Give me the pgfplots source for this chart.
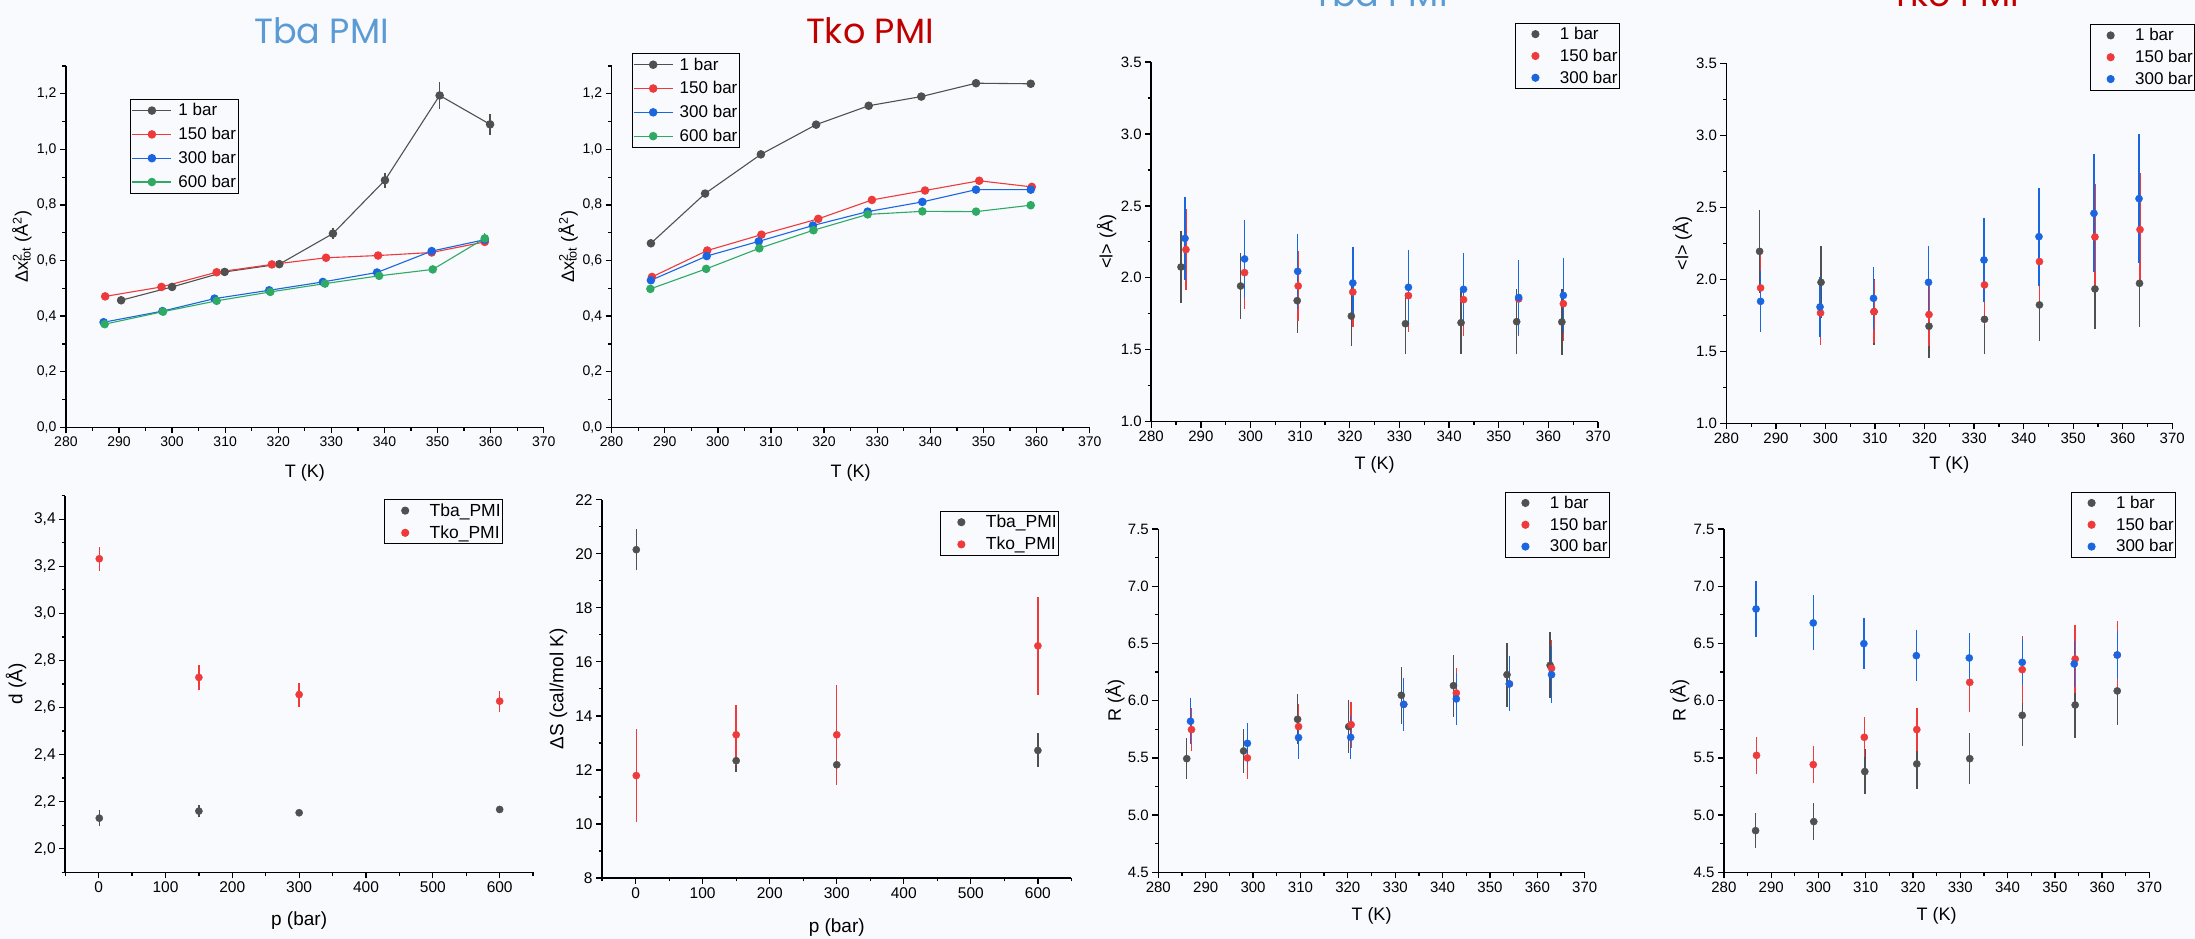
\documentclass[border=0pt]{standalone}
\usepackage{fontspec}
\setmainfont{Liberation Sans}
\newfontfamily\titlefont{Poppins}
\usepackage{pgfplots}
\pgfplotsset{compat=1.18}

\definecolor{bg}{RGB}{248,250,253}
\definecolor{cgray}{RGB}{80,80,80}
\definecolor{cred}{RGB}{238,58,58}
\definecolor{cblue}{RGB}{26,102,224}
\definecolor{cgreen}{RGB}{46,170,100}
\definecolor{tbablue}{RGB}{91,155,213}
\definecolor{tkored}{RGB}{192,0,0}

\pgfplotsset{
  panel/.style={
    scale only axis, axis lines=left, axis line style={-, line width=1.5pt},
    tick align=outside, major tick length=6pt, minor tick length=3.5pt,
    tick style={line width=1.3pt, black},
    /pgf/number format/assume math mode=true,
    clip=false,
    xmin=280, xmax=370,
    xtick={280,290,...,370}, minor xtick={285,295,...,365},
    label style={font=\fontsize{18}{18}\selectfont},
    legend cell align=left,
    legend style={draw=black, line width=0.9pt, fill=bg, anchor=north west,
      font=\fontsize{17}{17}\selectfont, row sep=4pt, column sep=0pt,
      inner xsep=1pt, inner ysep=2pt, nodes={inner xsep=1pt}},
    legend image code/.code={\path (0pt,0pt) (42pt,0pt); \draw plot coordinates {(19pt,0pt)};},
  },
  linepanel/.style={panel,
    ymin=0, ymax=1.3, ytick={0,0.2,...,1.2}, minor ytick={0.1,0.3,...,1.3},
    tick label style={font=\fontsize{14}{14}\selectfont},
    yticklabel style={/pgf/number format/.cd, fixed, fixed zerofill, precision=1, use comma},
    ylabel={Δx\makebox[0pt][l]{\textsuperscript{2}}\textsubscript{tot} (Å\textsuperscript{2})},
    xlabel={T (K)},
    legend style={row sep=6pt, column sep=5.5pt},
    legend image code/.code={\draw[mark repeat=2,mark phase=2] plot coordinates {(0pt,0pt) (19.5pt,0pt) (39pt,0pt)};},
  },
  lpanel/.style={panel,
    ymin=1, ymax=3.5, ytick={1,1.5,...,3.5}, minor ytick={1.25,1.75,...,3.25},
    tick label style={font=\fontsize{15}{15}\selectfont},
    yticklabel style={/pgf/number format/.cd, fixed, fixed zerofill, precision=1},
    ylabel={<l> (Å)}, xlabel={T (K)},
  },
  rpanel/.style={panel,
    ymin=4.5, ymax=7.5, ytick={4.5,5,...,7.5}, minor ytick={4.75,5.25,...,7.25},
    tick label style={font=\fontsize{15}{15}\selectfont},
    yticklabel style={/pgf/number format/.cd, fixed, fixed zerofill, precision=1},
    ylabel={R (Å)}, xlabel={T (K)},
  },
  ppanel/.style={panel,
    xmin=-50, xmax=650, xtick={0,100,...,600}, minor xtick={-50,50,...,650},
    tick label style={font=\fontsize{15.5}{15.5}\selectfont},
    label style={font=\fontsize{19}{19}\selectfont},
    xlabel={p (bar)},
    legend style={font=\fontsize{17.5}{17.5}\selectfont},
  },
  ln/.style={line width=1.1pt, mark=*, mark size=3.7pt, mark options={solid, fill=#1, draw=#1}, color=#1,
    error bars/.cd, y dir=both, y explicit, error mark=none, error bar style={line width=1.3pt, #1}},
  sc/.style={only marks, mark=*, mark size=3.6pt, mark options={fill=#1, draw=#1}, color=#1,
    error bars/.cd, y dir=both, y explicit, error mark=none, error bar style={line width=1.4pt, #1}},
}

\begin{document}
\begin{tikzpicture}[x=1pt,y=1pt]
\useasboundingbox (0,0) rectangle (2195,939);
\fill[bg] (0,0) rectangle (2195,939);

% titles
\node[anchor=base, font=\titlefont\fontsize{35}{35}\selectfont, text=tbablue] at (321.5,895.7) {Tba PMI};
\node[anchor=base, font=\titlefont\fontsize{35}{35}\selectfont, text=tkored] at (869.9,895.7) {Tko PMI};
\node[anchor=base, font=\titlefont\fontsize{35}{35}\selectfont, text=tbablue] at (1380.4,932) {Tba PMI};
\node[anchor=base, font=\titlefont\fontsize{35}{35}\selectfont, text=tkored] at (1955.4,932) {Tko PMI};

% panel 1: Tba dx2
\begin{axis}[linepanel, at={(65.9pt,511.7pt)}, anchor=south west, width=477.8pt, height=361.3pt,
  ylabel style={at={(axis description cs:-0.092,0.5)}, anchor=center},
  xlabel style={at={(axis description cs:0.5,-0.126)}, anchor=center},
  legend style={at={(axis description cs:0.135,0.908)}}]
\addplot[ln=cgray] coordinates {(290.4,0.457) +- (0,0.012) (300.0,0.505) +- (0,0.010) (309.9,0.559) +- (0,0.010) (320.2,0.587) +- (0,0.012) (330.3,0.697) +- (0,0.020) (340.1,0.889) +- (0,0.027) (350.4,1.194) +- (0,0.050) (359.9,1.090) +- (0,0.038)};
\addplot[ln=cred] coordinates {(287.4,0.471) (298.0,0.505) (308.4,0.558) (318.8,0.586) (329.0,0.610) (338.8,0.618) (348.9,0.629) (358.9,0.667)};
\addplot[ln=cblue] coordinates {(287.1,0.378) (298.2,0.418) (308.0,0.463) (318.3,0.493) (328.4,0.523) (338.6,0.557) (348.9,0.634) (358.9,0.675)};
\addplot[ln=cgreen] coordinates {(287.3,0.371) (298.3,0.416) (308.4,0.455) (318.5,0.487) (328.8,0.517) (339.0,0.545) (349.1,0.568) (358.9,0.680) +- (0,0.02)};
\legend{1 bar,150 bar,300 bar,600 bar}
\end{axis}

% panel 2: Tko dx2
\begin{axis}[linepanel, at={(611.6pt,511.7pt)}, anchor=south west, width=478.1pt, height=361.3pt,
  ylabel style={at={(axis description cs:-0.091,0.5)}, anchor=center},
  xlabel style={at={(axis description cs:0.5,-0.126)}, anchor=center},
  legend style={at={(axis description cs:0.042,1.035)}}]
\addplot[ln=cgray] coordinates {(287.4,0.662) (297.6,0.841) (308.1,0.982) (318.5,1.089) (328.4,1.157) (338.3,1.190) (348.6,1.238) +- (0,0.015) (358.9,1.236) +- (0,0.012)};
\addplot[ln=cred] coordinates {(287.6,0.541) (298.0,0.636) (308.2,0.693) (318.9,0.750) (329.0,0.818) (339.0,0.852) (349.2,0.887) (359.1,0.865)};
\addplot[ln=cblue] coordinates {(287.4,0.529) (297.9,0.616) (307.7,0.669) (317.9,0.726) (328.2,0.776) (338.5,0.811) (348.6,0.855) (358.9,0.855)};
\addplot[ln=cgreen] coordinates {(287.3,0.498) (297.8,0.570) (307.8,0.644) (318.0,0.709) (328.2,0.766) (338.5,0.777) (348.6,0.776) (358.9,0.799)};
\legend{1 bar,150 bar,300 bar,600 bar}
\end{axis}

% panel 3: Tba <l>
\begin{axis}[lpanel, at={(1151.2pt,517.3pt)}, anchor=south west, width=446.9pt, height=359.7pt,
  ylabel style={at={(axis description cs:-0.100,0.5)}, anchor=center},
  xlabel style={at={(axis description cs:0.5,-0.120)}, anchor=center},
  legend style={at={(axis description cs:0.813,1.109)}}]
\addplot[sc=cgray] coordinates {(286.0,2.075) +- (0,0.25) (298.0,1.943) +- (0,0.23) (309.4,1.841) +- (0,0.227) (320.3,1.734) +- (0,0.21) (331.2,1.681) +- (0,0.21) (342.4,1.688) +- (0,0.22) (353.6,1.695) +- (0,0.225) (362.7,1.693) +- (0,0.23)};
\addplot[sc=cred] coordinates {(287.0,2.196) +- (0,0.28) (298.8,2.036) +- (0,0.255) (309.6,1.943) +- (0,0.24) (320.6,1.901) +- (0,0.24) (331.8,1.876) +- (0,0.25) (342.9,1.848) +- (0,0.25) (354.0,1.853) +- (0,0.26) (363.0,1.820) +- (0,0.26)};
\addplot[sc=cblue] coordinates {(286.8,2.274) +- (0,0.29) (298.8,2.131) +- (0,0.27) (309.5,2.045) +- (0,0.26) (320.6,1.964) +- (0,0.25) (331.8,1.934) +- (0,0.26) (342.9,1.920) +- (0,0.25) (354.0,1.864) +- (0,0.26) (363.0,1.878) +- (0,0.26)};
\legend{1 bar,150 bar,300 bar}
\end{axis}

% panel 4: Tko <l>
\begin{axis}[lpanel, at={(1726.4pt,515.7pt)}, anchor=south west, width=445.8pt, height=360pt,
  ylabel style={at={(axis description cs:-0.099,0.5)}, anchor=center},
  xlabel style={at={(axis description cs:0.5,-0.116)}, anchor=center},
  legend style={at={(axis description cs:0.815,1.109)}}]
\addplot[sc=cgray] coordinates {(286.7,2.194) +- (0,0.29) (299.1,1.979) +- (0,0.25) (309.8,1.775) +- (0,0.23) (320.9,1.674) +- (0,0.22) (332.1,1.722) +- (0,0.24) (343.2,1.822) +- (0,0.25) (354.4,1.933) +- (0,0.28) (363.4,1.972) +- (0,0.30)};
\addplot[sc=cred] coordinates {(286.9,1.940) +- (0,0.24) (299.0,1.766) +- (0,0.22) (309.8,1.775) +- (0,0.22) (320.9,1.755) +- (0,0.22) (332.1,1.961) +- (0,0.27) (343.2,2.123) +- (0,0.31) (354.4,2.294) +- (0,0.37) (363.5,2.345) +- (0,0.39)};
\addplot[sc=cblue] coordinates {(286.9,1.847) +- (0,0.21) (298.9,1.808) +- (0,0.21) (309.7,1.868) +- (0,0.22) (320.8,1.979) +- (0,0.25) (332.0,2.134) +- (0,0.29) (343.1,2.296) +- (0,0.34) (354.2,2.458) +- (0,0.41) (363.3,2.560) +- (0,0.45)};
\legend{1 bar,150 bar,300 bar}
\end{axis}

% panel 5: d vs p
\begin{axis}[ppanel, at={(65.2pt,66.7pt)}, anchor=south west, width=467.9pt, height=376.6pt,
  ymin=1.9, ymax=3.5, ytick={2,2.2,...,3.4}, minor ytick={1.9,2.1,...,3.5},
  yticklabel style={/pgf/number format/.cd, fixed, fixed zerofill, precision=1, use comma},
  ylabel={d (Å)},
  ylabel style={at={(axis description cs:-0.105,0.5)}, anchor=center},
  xlabel style={at={(axis description cs:0.5,-0.129)}, anchor=center},
  legend style={at={(axis description cs:0.682,0.991)}}]
\addplot[sc=cgray] coordinates {(1,2.130) +- (0,0.033) (150,2.160) +- (0,0.025) (300,2.153) +- (0,0.01) (600,2.167) +- (0,0.01)};
\addplot[sc=cred] coordinates {(1,3.232) +- (0,0.052) (150,2.728) +- (0,0.052) (300,2.655) +- (0,0.051) (600,2.627) +- (0,0.045)};
\legend{Tba\_PMI,Tko\_PMI}
\end{axis}

% panel 6: dS vs p
\begin{axis}[ppanel, at={(602.1pt,61pt)}, anchor=south west, width=469.3pt, height=378.3pt,
  ymin=8, ymax=22, ytick={8,10,...,22}, minor ytick={9,11,...,21},
  ylabel={ΔS (cal/mol K)},
  ylabel style={at={(axis description cs:-0.093,0.5)}, anchor=center},
  xlabel style={at={(axis description cs:0.5,-0.130)}, anchor=center},
  legend style={at={(axis description cs:0.721,0.971)}}]
\addplot[sc=cgray] coordinates {(1,20.15) +- (0,0.77) (150,12.34) +- (0,0.40) (300,12.19) +- (0,0.50) (600,12.72) +- (0,0.63)};
\addplot[sc=cred] coordinates {(1,11.79) +- (0,1.71) (150,13.30) +- (0,1.10) (300,13.30) +- (0,1.84) (600,16.59) +- (0,1.80)};
\legend{Tba\_PMI,Tko\_PMI}
\end{axis}

% panel 7: Tba R
\begin{axis}[rpanel, at={(1158.3pt,66.7pt)}, anchor=south west, width=426.4pt, height=343.3pt,
  ylabel style={at={(axis description cs:-0.102,0.5)}, anchor=center},
  xlabel style={at={(axis description cs:0.5,-0.126)}, anchor=center},
  legend style={at={(axis description cs:0.812,1.109)}}]
\addplot[sc=cgray] coordinates {(286.0,5.493) +- (0,0.18) (298.0,5.560) +- (0,0.19) (309.4,5.837) +- (0,0.22) (320.2,5.773) +- (0,0.23) (331.3,6.047) +- (0,0.25) (342.3,6.131) +- (0,0.27) (353.6,6.227) +- (0,0.28) (362.7,6.309) +- (0,0.29)};
\addplot[sc=cred] coordinates {(287.0,5.747) +- (0,0.19) (298.8,5.499) +- (0,0.18) (309.6,5.773) +- (0,0.20) (320.7,5.790) +- (0,0.20) (331.8,5.968) +- (0,0.21) (342.9,6.067) +- (0,0.22) (354.1,6.146) +- (0,0.23) (363.0,6.283) +- (0,0.25)};
\addplot[sc=cblue] coordinates {(286.8,5.820) +- (0,0.20) (298.8,5.627) +- (0,0.18) (309.6,5.677) +- (0,0.19) (320.6,5.680) +- (0,0.19) (331.8,5.968) +- (0,0.23) (342.9,6.015) +- (0,0.23) (354.1,6.146) +- (0,0.24) (363.0,6.227) +- (0,0.25)};
\legend{1 bar,150 bar,300 bar}
\end{axis}

% panel 8: Tko R
\begin{axis}[rpanel, at={(1723.9pt,66.7pt)}, anchor=south west, width=425.5pt, height=343.3pt,
  ylabel style={at={(axis description cs:-0.104,0.5)}, anchor=center},
  xlabel style={at={(axis description cs:0.5,-0.126)}, anchor=center},
  legend style={at={(axis description cs:0.815,1.109)}}]
\addplot[sc=cgray] coordinates {(286.7,4.864) +- (0,0.155) (299.0,4.943) +- (0,0.16) (309.8,5.380) +- (0,0.20) (320.8,5.447) +- (0,0.22) (332.0,5.493) +- (0,0.22) (343.1,5.872) +- (0,0.27) (354.3,5.962) +- (0,0.29) (363.2,6.085) +- (0,0.30)};
\addplot[sc=cred] coordinates {(286.9,5.522) +- (0,0.16) (298.9,5.441) +- (0,0.165) (309.7,5.680) +- (0,0.175) (320.8,5.747) +- (0,0.19) (332.0,6.160) +- (0,0.26) (343.1,6.271) +- (0,0.29) (354.3,6.364) +- (0,0.30) (363.2,6.399) +- (0,0.30)};
\addplot[sc=cblue] coordinates {(286.8,6.801) +- (0,0.245) (298.9,6.679) +- (0,0.24) (309.6,6.498) +- (0,0.225) (320.7,6.393) +- (0,0.22) (331.9,6.373) +- (0,0.22) (343.1,6.335) +- (0,0.20) (354.1,6.321) +- (0,0.20) (363.2,6.399) +- (0,0.21)};
\legend{1 bar,150 bar,300 bar}
\end{axis}
\end{tikzpicture}
\end{document}
